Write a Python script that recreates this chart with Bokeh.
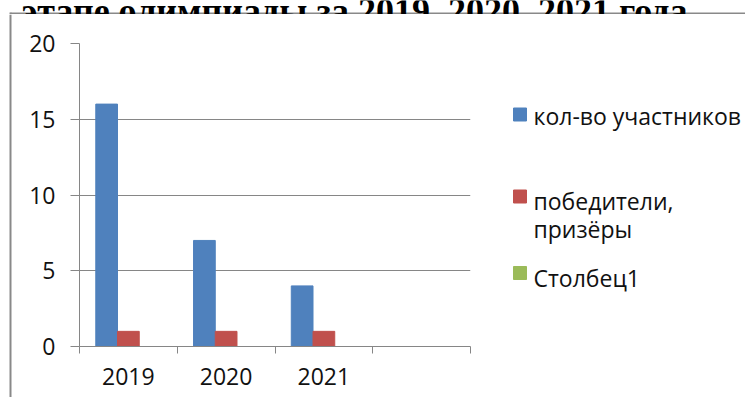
from bokeh.plotting import figure
from bokeh.layouts import column, row
from bokeh.models import Range1d, LinearAxis, FixedTicker, ColumnDataSource
from bokeh.transform import dodge
from bokeh.core.properties import value
from bokeh.embed import file_html
from bokeh.resources import INLINE

# ---- data ----
categories = ["2019", "2020", "2021", ""]
participants = [16, 7, 4, 0]
winners = [1, 1, 1, 0]
column1 = [0, 0, 0, 0]
series_names = ["кол-во участников", "победители, призёры", "Столбец1"]
y_ticks = [0, 5, 10, 15, 20]
title_text = "этапе олимпиады за 2019, 2020, 2021 года"

colors = ["#4F81BD", "#C0504D", "#9BBB59"]
grid_col = "#868686"
border_col = "#898989"
txt_col = "#111111"
font = "Open Sans"

TOTAL_W, TOTAL_H = 745, 397
TITLE_H = 14
BODY_H = TOTAL_H - TITLE_H
LEFT_W = 12
MAIN_W = 463
LEG_W = TOTAL_W - LEFT_W - MAIN_W


def blank_fig(w, h, x0, x1, y0, y1):
    f = figure(width=w, height=h, x_range=Range1d(x0, x1), y_range=Range1d(y0, y1),
               min_border=0, x_axis_location=None, y_axis_location=None, title=None,
               output_backend="svg", toolbar_location=None, frame_align=False)
    f.grid.visible = False
    f.outline_line_color = None
    f.background_fill_color = "white"
    f.border_fill_color = "white"
    return f

# ---- title strip (title is cut off at the top, as in the reference) ----
tf = blank_fig(TOTAL_W, TITLE_H, 0, TOTAL_W, TITLE_H, 0)
tf.segment(x0=[10], y0=[13], x1=[TOTAL_W], y1=[13], line_color=border_col, line_width=2)
tf.segment(x0=[10], y0=[12], x1=[10], y1=[TITLE_H], line_color=border_col, line_width=2)
tf.text(x=[687], y=[10], text=[title_text], text_font=value("Liberation Serif"),
        text_font_style="bold", text_font_size="36px", text_color="black",
        text_align="right", text_baseline="alphabetic")

# ---- left border strip ----
lf = blank_fig(LEFT_W, BODY_H, 0, LEFT_W, TOTAL_H, TITLE_H)
lf.segment(x0=[10], y0=[TITLE_H], x1=[10], y1=[TOTAL_H], line_color=border_col, line_width=2)

# ---- main chart ----
n = len(categories)
centers = [i + 0.5 for i in range(n)]
src = ColumnDataSource(dict(xc=centers, s1=participants, s2=winners, s3=column1))

p = figure(x_range=Range1d(0, n), y_range=Range1d(0, 20),
           frame_width=391, frame_height=303, title=None,
           min_border_left=67, min_border_right=5, min_border_top=29, min_border_bottom=51,
           x_axis_location=None, y_axis_location=None, frame_align=False,
           output_backend="svg", toolbar_location=None)
p.background_fill_color = "white"
p.border_fill_color = "white"
p.outline_line_color = None
p.xgrid.grid_line_color = None
p.ygrid.grid_line_color = grid_col
p.ygrid.ticker = FixedTicker(ticks=y_ticks)

bw = 1 / 4.5
p.vbar(x=dodge("xc", -bw), top="s1", width=bw, source=src,
       fill_color=colors[0], line_color=colors[0])
p.vbar(x=dodge("xc", 0), top="s2", width=bw, source=src,
       fill_color=colors[1], line_color=colors[1])
p.vbar(x=dodge("xc", bw), top="s3", width=bw, source=src,
       fill_color=colors[2], line_color=colors[2])

yax = LinearAxis(ticker=FixedTicker(ticks=y_ticks, minor_ticks=[]))
yax.axis_line_color = grid_col
yax.major_tick_line_color = grid_col
yax.major_tick_out = 9
yax.major_tick_in = 0
yax.minor_tick_line_color = None
yax.major_label_standoff = 15
yax.major_label_text_font = font
yax.major_label_text_font_size = "23px"
yax.major_label_text_color = txt_col
p.add_layout(yax, "left")

xtick = LinearAxis(ticker=FixedTicker(ticks=list(range(n + 1)), minor_ticks=[]))
xtick.axis_line_color = grid_col
xtick.major_tick_line_color = grid_col
xtick.major_tick_out = 7
xtick.major_tick_in = 0
xtick.minor_tick_line_color = None
xtick.major_label_text_font_size = "0px"
xtick.major_label_standoff = 0
p.add_layout(xtick, "below")

xlab = LinearAxis(ticker=FixedTicker(ticks=centers, minor_ticks=[]),
                  major_label_overrides={c: lab for c, lab in zip(centers, categories)})
xlab.axis_line_color = None
xlab.major_tick_line_color = None
xlab.minor_tick_line_color = None
xlab.major_label_standoff = 8
xlab.major_label_text_font = font
xlab.major_label_text_font_size = "23px"
xlab.major_label_text_color = txt_col
p.add_layout(xlab, "below")

# ---- legend panel ----
x_leg0 = LEFT_W + MAIN_W
gf = blank_fig(LEG_W, BODY_H, x_leg0, TOTAL_W, TOTAL_H, TITLE_H)
sq_y = [114, 196, 272.5]
gf.rect(x=[519.5] * 3, y=sq_y, width=13, height=13, fill_color=colors,
        line_color=colors)
lines = [series_names[0]] + series_names[1].split(" ") + [series_names[2]]
gf.text(x=[533] * 4, y=[115, 200, 228, 277], text=lines, text_font=value(font),
        text_font_size="23px", text_color=txt_col, text_baseline="middle",
        text_align="left")

layout = column(tf, row(lf, p, gf, spacing=0), spacing=0)
open("out.html", "w").write(file_html(layout, INLINE))
